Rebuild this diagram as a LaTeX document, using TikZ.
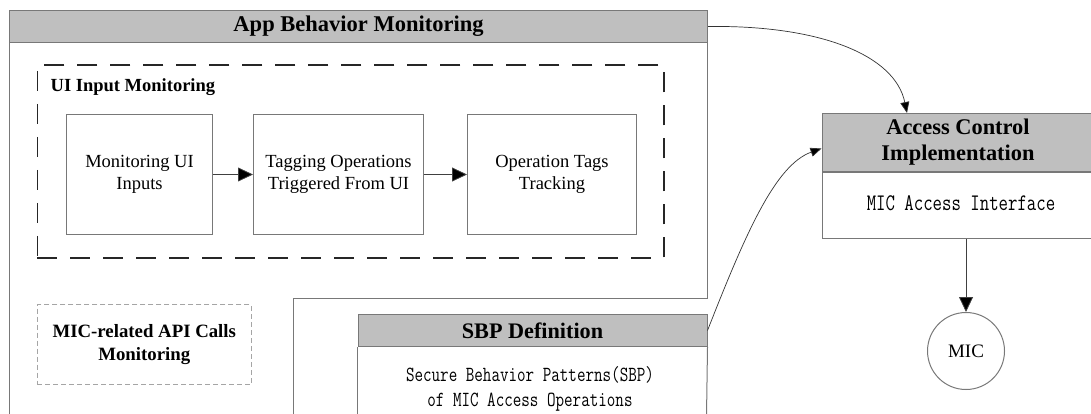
\documentclass[tikz,border=0pt]{standalone}
\usepackage{fontspec}
\setmainfont{Liberation Serif}
\usepackage{graphicx}
\usetikzlibrary{arrows.meta,calc}
\definecolor{hdr}{RGB}{191,191,191}
\definecolor{bord}{RGB}{120,120,120}
\definecolor{dashgray}{RGB}{165,165,165}
\newcommand\tallmono[3]{\scalebox{1}[1.3]{\fontsize{#1}{#2}\ttfamily\addfontfeature{FakeBold=0.6}\begin{tabular}{@{}c@{}}#3\end{tabular}}}
\begin{document}
\begin{tikzpicture}[x=1pt,y=-1pt,
  hdrbox/.style={draw=bord, fill=hdr, line width=1pt, inner sep=0pt, align=center, font=\bfseries\fontsize{22.5}{26}\selectfont},
  plainbox/.style={draw=bord, line width=1pt, inner sep=0pt, align=center, font=\fontsize{18.5}{22}\selectfont},
  arr/.style={draw=black!75, line width=0.8pt, -{Triangle[length=15pt,width=14pt,fill=black]}},
  curvarr/.style={draw=black!80, line width=0.7pt, -{Triangle[length=11pt,width=9pt,fill=black]}},
  bordline/.style={draw=bord, line width=1pt},
]
\useasboundingbox (0,0) rectangle (1091,414);

% App Behavior Monitoring container
\draw[bordline] (9,42) -- (9,416);
\draw[bordline] (707,42) -- (707,298) -- (293,298) -- (293,416);
\node[hdrbox, minimum width=698pt, minimum height=32pt, anchor=north west] (abm) at (9,10) {App Behavior Monitoring};

% UI Input Monitoring dashed group
\node[draw=black!85, line width=1.8pt, dash pattern=on 20pt off 13pt, minimum width=626.5pt, minimum height=193pt, inner sep=0pt, anchor=north west] (uim) at (36.5,64) {};
\node[anchor=base west, inner sep=0pt, font=\bfseries\fontsize{18.5}{22}\selectfont] (uilabel) at (50.5,91.5) {UI Input Monitoring};

\node[plainbox, minimum width=146pt, minimum height=120pt, anchor=north west] (b1) at (66,114) {Monitoring UI\\Inputs};
\node[plainbox, minimum width=170pt, minimum height=120pt, anchor=north west] (b2) at (253,114) {Tagging Operations\\Triggered From UI};
\node[plainbox, minimum width=169pt, minimum height=120pt, anchor=north west] (b3) at (467,114) {Operation Tags\\Tracking};
\draw[arr] (b1) -- (b2);
\draw[arr] (b2) -- (b3);

% MIC-related API Calls Monitoring
\node[draw=dashgray, line width=1.2pt, dash pattern=on 5pt off 3pt, minimum width=214pt, minimum height=80pt, inner sep=0pt, anchor=north west, align=center, font=\bfseries\fontsize{18.8}{23}\selectfont] (api) at (36.7,304) {MIC-related API Calls\\Monitoring};

% SBP Definition
\node[hdrbox, font=\bfseries\fontsize{22.2}{26}\selectfont, minimum width=349pt, minimum height=32pt, anchor=north west] (sbp) at (357.5,314) {SBP Definition};
\draw[bordline] (sbp.south west) -- (357.5,416);
\draw[bordline] (sbp.south east) -- (706.5,416);
\node[inner sep=0pt] (sbptext) at (530,389) {\tallmono{16.6}{19.3}{Secure Behavior Patterns(SBP)\\of MIC Access Operations}};

% Access Control Implementation
\node[hdrbox, font=\bfseries\fontsize{22.4}{26}\selectfont, minimum width=272pt, minimum height=58pt, anchor=north west] (acchead) at (821.5,113) {Access Control\\Implementation};
\node[draw=bord, line width=1pt, minimum width=272pt, minimum height=66pt, inner sep=0pt, anchor=north west] (accbody) at (acchead.south west) {};
\node[inner sep=0pt] (acctext) at (961,205) {\tallmono{18.3}{21}{MIC Access Interface}};

% MIC
\node[circle, draw=bord, line width=1pt, minimum size=77pt, inner sep=0pt, font=\fontsize{19}{22}\selectfont] (mic) at (966,351) {MIC};
\draw[arr] (mic.north |- accbody.south) -- (mic.north);

% Curved connectors
\draw[curvarr] (abm.east) .. controls (820,25) and (895,55) .. ($(acchead.north west)+(85.5,0)$);
\draw[curvarr] (sbp.east) .. controls (745,235) and (775,165) .. ($(acchead.west)+(0,6)$);
\end{tikzpicture}
\end{document}
